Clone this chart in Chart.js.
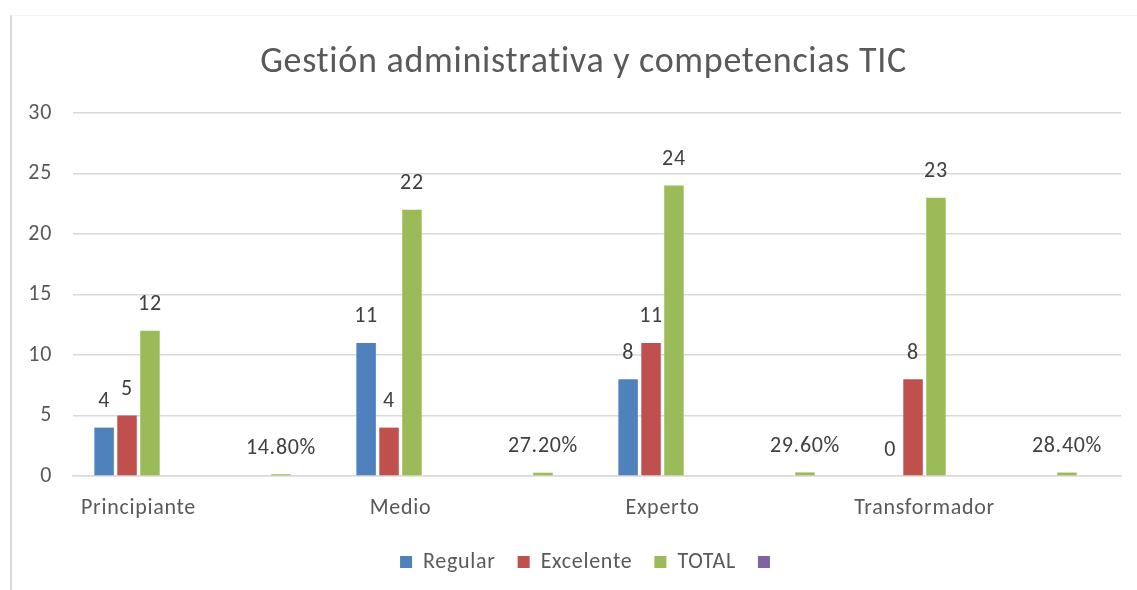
<!DOCTYPE html>
<html lang="es">
<head>
<meta charset="UTF-8" />
<title>Gestión administrativa y competencias TIC</title>
<script src="https://cdn.jsdelivr.net/npm/chart.js@4.4.1/dist/chart.umd.min.js"></script>
<style>
  html, body { margin: 0; padding: 0; background: #fff; }
  #frame {
    position: absolute; left: 10px; top: 15px; width: 1140px; height: 600px;
    border-left: 2px solid #d9d9d9; border-top: 1px solid #f2f2f2;
  }
  #wrap { position: absolute; left: 0; top: 0; width: 1137px; height: 590px; }
</style>
</head>
<body>
<div id="frame"></div>
<div id="wrap"><canvas id="chart"></canvas></div>
<script>
// categories (every level has an unnamed slot after it, as in the original sheet)
const categories = ['Principiante', '', 'Medio', '', 'Experto', '', 'Transformador', ''];
const regular   = [4, null, 11, null, 8, null, 0, null];
const excelente = [5, null, 4, null, 11, null, 8, null];
const total     = [12, 0.148, 22, 0.272, 24, 0.296, 23, 0.284];
const extra     = [null, null, null, null, null, null, null, null];
const yTicks    = [0, 5, 10, 15, 20, 25, 30];

const FONT = 'Carlito, Lato, sans-serif';
const GREY = '#595959';
const SPACING = '0.7px';

// excel spreads its letters a little
const letterSpacing = {
    id: 'letterSpacing',
    beforeUpdate(chart) { chart.ctx.letterSpacing = SPACING; },
    beforeLayout(chart) { chart.ctx.letterSpacing = SPACING; },
    beforeDraw(chart) { chart.ctx.letterSpacing = SPACING; }
};

// title and legend are centred on the frame, not on the whole canvas
const shiftBoxes = {
    id: 'shiftBoxes',
    afterLayout(chart) {
        if (chart.titleBlock) chart.titleBlock.left = 46;
        if (chart.legend) chart.legend.left = 60;
    }
};

// value labels above the bars
const barLabels = {
    id: 'barLabels',
    afterDatasetsDraw(chart) {
        const ctx = chart.ctx;
        ctx.save();
        ctx.font = '22px ' + FONT;
        ctx.fillStyle = '#404040';
        ctx.textAlign = 'center';
        ctx.textBaseline = 'middle';
        chart.data.datasets.forEach((ds, i) => {
            chart.getDatasetMeta(i).data.forEach((bar, j) => {
                const v = ds.data[j];
                if (v === null || v === undefined) return;
                const txt = (v > 0 && v < 1) ? (v * 100).toFixed(2) + '%' : String(v);
                ctx.fillText(txt, bar.x, bar.y - 26);
            });
        });
        ctx.restore();
    }
};

const ctx = document.getElementById('chart').getContext('2d');
const myChart = new Chart(ctx, {
    type: 'bar',
    data: {
        labels: categories,
        datasets: [
            { label: 'Regular',   data: regular,   backgroundColor: '#4F81BD' },
            { label: 'Excelente', data: excelente, backgroundColor: '#C0504D' },
            { label: 'TOTAL',     data: total,     backgroundColor: '#9BBB59' },
            { label: '',          data: extra,     backgroundColor: '#8064A2' }
        ]
    },
    options: {
        responsive: true,
        maintainAspectRatio: false,
        animation: false,
        layout: { padding: { top: 20, right: 16, left: 0, bottom: 7 } },
        datasets: { bar: { categoryPercentage: 0.7, barPercentage: 0.85 } },
        scales: {
            x: {
                afterFit(scale) { scale.height = 53; },
                grid: { display: false, drawTicks: false },
                border: { color: '#d9d9d9', width: 1.5 },
                ticks: { color: GREY, font: { family: FONT, size: 22 }, padding: 19, autoSkip: false, maxRotation: 0 }
            },
            y: {
                min: 0, max: 30,
                afterBuildTicks(scale) { scale.ticks = yTicks.map(v => ({ value: v })); },
                afterFit(scale) { scale.width = 73; },
                grid: { color: '#d9d9d9', lineWidth: 1.5, drawTicks: false },
                border: { display: false },
                ticks: { color: GREY, font: { family: FONT, size: 22 }, padding: 21 }
            }
        },
        plugins: {
            title: {
                display: true,
                text: 'Gestión administrativa y competencias TIC',
                color: GREY,
                font: { family: FONT, size: 36, weight: 'normal' },
                padding: { top: 21, bottom: 28.8 }
            },
            legend: {
                position: 'bottom',
                labels: { color: GREY, font: { family: FONT, size: 22 }, boxWidth: 12, boxHeight: 12, padding: 22 }
            },
            tooltip: { enabled: false }
        }
    },
    plugins: [letterSpacing, shiftBoxes, barLabels]
});
</script>
</body>
</html>
